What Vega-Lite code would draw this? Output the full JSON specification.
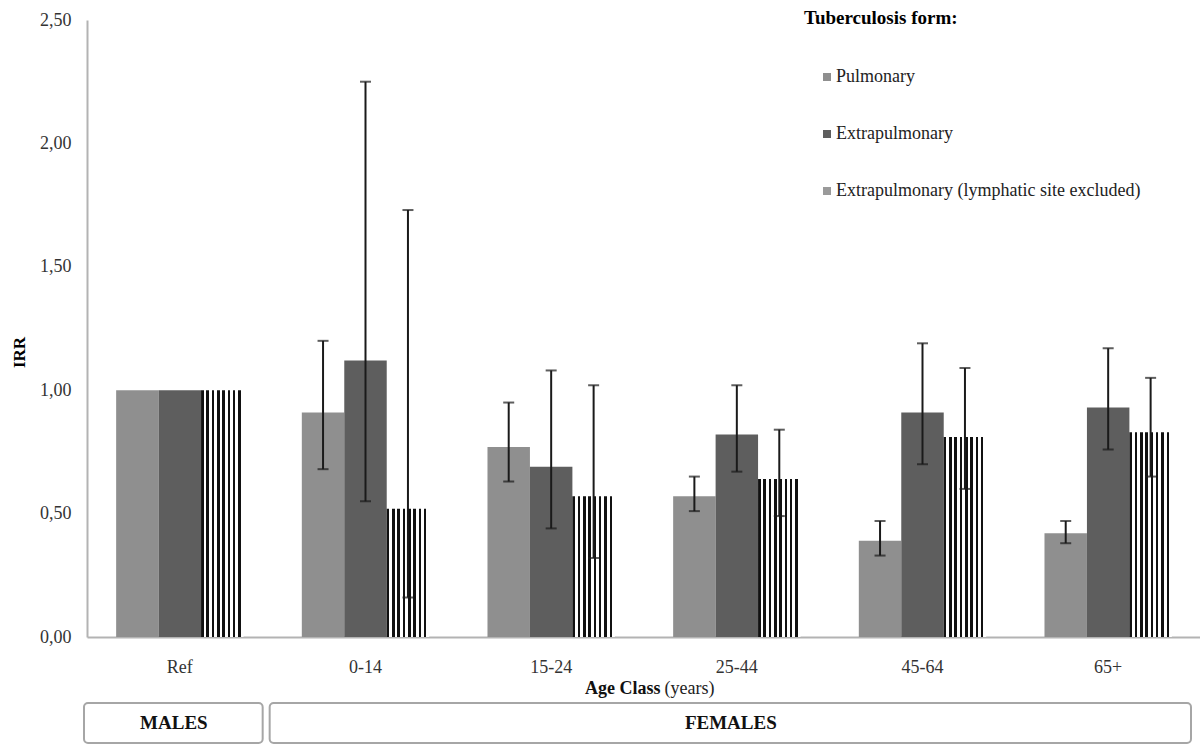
{
  "$schema": "https://vega.github.io/schema/vega-lite/v6.json",
  "autosize": {"type": "pad"},
  "padding": {"left": 10, "top": 9, "right": 0, "bottom": 0},
  "background": "white",
  "spacing": 2,
  "config": {
    "view": {"stroke": null},
    "font": "Liberation Serif",
    "text": {"font": "Liberation Serif"}
  },
  "resolve": {"scale": {"x": "independent", "y": "independent"}},
  "vconcat": [
    {
      "width": 1114,
      "height": 617,
      "data": {
        "values": [
          {"age": "Ref", "form": "Pulmonary", "irr": 1.0, "lo": null, "hi": null},
          {"age": "Ref", "form": "Extrapulmonary", "irr": 1.0, "lo": null, "hi": null},
          {"age": "Ref", "form": "Extrapulmonary (lymphatic site excluded)", "irr": 1.0, "lo": null, "hi": null},
          {"age": "0-14", "form": "Pulmonary", "irr": 0.91, "lo": 0.68, "hi": 1.2},
          {"age": "0-14", "form": "Extrapulmonary", "irr": 1.12, "lo": 0.55, "hi": 2.25},
          {"age": "0-14", "form": "Extrapulmonary (lymphatic site excluded)", "irr": 0.52, "lo": 0.16, "hi": 1.73},
          {"age": "15-24", "form": "Pulmonary", "irr": 0.77, "lo": 0.63, "hi": 0.95},
          {"age": "15-24", "form": "Extrapulmonary", "irr": 0.69, "lo": 0.44, "hi": 1.08},
          {"age": "15-24", "form": "Extrapulmonary (lymphatic site excluded)", "irr": 0.57, "lo": 0.32, "hi": 1.02},
          {"age": "25-44", "form": "Pulmonary", "irr": 0.57, "lo": 0.51, "hi": 0.65},
          {"age": "25-44", "form": "Extrapulmonary", "irr": 0.82, "lo": 0.67, "hi": 1.02},
          {"age": "25-44", "form": "Extrapulmonary (lymphatic site excluded)", "irr": 0.64, "lo": 0.49, "hi": 0.84},
          {"age": "45-64", "form": "Pulmonary", "irr": 0.39, "lo": 0.33, "hi": 0.47},
          {"age": "45-64", "form": "Extrapulmonary", "irr": 0.91, "lo": 0.7, "hi": 1.19},
          {"age": "45-64", "form": "Extrapulmonary (lymphatic site excluded)", "irr": 0.81, "lo": 0.6, "hi": 1.09},
          {"age": "65+", "form": "Pulmonary", "irr": 0.42, "lo": 0.38, "hi": 0.47},
          {"age": "65+", "form": "Extrapulmonary", "irr": 0.93, "lo": 0.76, "hi": 1.17},
          {"age": "65+", "form": "Extrapulmonary (lymphatic site excluded)", "irr": 0.83, "lo": 0.65, "hi": 1.05}
        ]
      },
      "encoding": {
        "x": {
          "field": "age", "type": "nominal",
          "sort": ["Ref", "0-14", "15-24", "25-44", "45-64", "65+"],
          "scale": {"paddingInner": 0.314, "paddingOuter": 0.157},
          "axis": {
            "title": null, "labelAngle": 0, "labelFontSize": 18, "labelFont": "Liberation Serif",
            "labelColor": "#333", "labelPadding": 21, "ticks": false, "tickSize": 0,
            "domainColor": "#b3b3b3", "domainWidth": 2, "grid": false
          }
        },
        "xOffset": {
          "field": "form", "type": "nominal",
          "sort": ["Pulmonary", "Extrapulmonary", "Extrapulmonary (lymphatic site excluded)"],
          "scale": {"domain": ["Pulmonary", "Extrapulmonary", "Extrapulmonary (lymphatic site excluded)"], "paddingInner": 0, "paddingOuter": 0}
        }
      },
      "layer": [
        {
          "mark": {"type": "bar"},
          "encoding": {
            "y": {
              "field": "irr", "type": "quantitative", "title": "IRR",
              "scale": {"domain": [0, 2.5], "nice": false, "zero": true},
              "axis": {
                "title": "IRR", "titleFont": "Liberation Serif", "titleFontSize": 17, "titleFontWeight": "bold",
                "titleColor": "#000", "titlePadding": 11, "titleY": 332,
                "labelFont": "Liberation Serif", "labelFontSize": 18, "labelPadding": 16, "labelColor": "#333",
                "ticks": false, "tickSize": 0, "grid": false,
                "domainColor": "#b3b3b3", "domainWidth": 2,
                "values": [0, 0.5, 1, 1.5, 2, 2.5],
                "labelExpr": "replace(format(datum.value, '.2f'), '.', ',')"
              }
            },
            "fill": {
              "condition": {
                "test": "datum.form === 'Extrapulmonary (lymphatic site excluded)'",
                "value": {"gradient": "linear", "x1": 0, "y1": 0, "x2": 1, "y2": 0,
                   "stops": [
                     {"offset": 0, "color": "#111"}, {"offset": 0.06, "color": "#111"}, {"offset": 0.06, "color": "#fff"}, {"offset": 0.125, "color": "#fff"},
                     {"offset": 0.125, "color": "#111"}, {"offset": 0.185, "color": "#111"}, {"offset": 0.185, "color": "#fff"}, {"offset": 0.25, "color": "#fff"},
                     {"offset": 0.25, "color": "#111"}, {"offset": 0.31, "color": "#111"}, {"offset": 0.31, "color": "#fff"}, {"offset": 0.375, "color": "#fff"},
                     {"offset": 0.375, "color": "#111"}, {"offset": 0.435, "color": "#111"}, {"offset": 0.435, "color": "#fff"}, {"offset": 0.5, "color": "#fff"},
                     {"offset": 0.5, "color": "#111"}, {"offset": 0.56, "color": "#111"}, {"offset": 0.56, "color": "#fff"}, {"offset": 0.625, "color": "#fff"},
                     {"offset": 0.625, "color": "#111"}, {"offset": 0.685, "color": "#111"}, {"offset": 0.685, "color": "#fff"}, {"offset": 0.75, "color": "#fff"},
                     {"offset": 0.75, "color": "#111"}, {"offset": 0.81, "color": "#111"}, {"offset": 0.81, "color": "#fff"}, {"offset": 0.875, "color": "#fff"},
                     {"offset": 0.875, "color": "#111"}, {"offset": 0.935, "color": "#111"}, {"offset": 0.935, "color": "#fff"}, {"offset": 1, "color": "#fff"}
                   ]}
              },
              "field": "form", "type": "nominal",
              "sort": ["Pulmonary", "Extrapulmonary", "Extrapulmonary (lymphatic site excluded)"],
              "scale": {
                "domain": ["Pulmonary", "Extrapulmonary", "Extrapulmonary (lymphatic site excluded)"],
                "range": ["#8f8f8f", "#5e5e5e", "#9a9a9a"]
              },
              "legend": {
                "title": "Tuberculosis form:", "orient": "none", "legendX": 717, "legendY": -11,
                "titleFont": "Liberation Serif", "titleFontSize": 19, "titleFontWeight": "bold", "titleColor": "#000",
                "titlePadding": 40, "labelFont": "Liberation Serif", "labelFontSize": 18, "labelColor": "#222",
                "labelLimit": 600, "symbolType": "square", "symbolSize": 64, "symbolOffset": 14,
                "labelOffset": 0, "rowPadding": 39, "symbolStrokeWidth": 0, "padding": 0
              }
            }
          }
        },
        {
          "mark": {"type": "rule", "strokeWidth": 2, "color": "#1a1a1a"},
          "encoding": {
            "y": {"field": "lo", "type": "quantitative", "title": "IRR", "scale": {"domain": [0, 2.5], "nice": false}},
            "y2": {"field": "hi"}
          }
        },
        {
          "mark": {"type": "tick", "orient": "horizontal", "size": 11, "thickness": 2, "color": "#1a1a1a"},
          "encoding": {"y": {"field": "lo", "type": "quantitative", "title": "IRR", "scale": {"domain": [0, 2.5], "nice": false}}}
        },
        {
          "mark": {"type": "tick", "orient": "horizontal", "size": 11, "thickness": 2, "color": "#1a1a1a"},
          "encoding": {"y": {"field": "hi", "type": "quantitative", "title": "IRR", "scale": {"domain": [0, 2.5], "nice": false}}}
        }
      ]
    },
    {
      "width": 1114,
      "height": 22,
      "data": {"values": [{"title": "Age Class (years)"}]},
      "layer": [
        {
          "mark": {"type": "text", "text": "Age Class", "align": "right", "dx": -2, "fontSize": 18, "fontWeight": "bold", "font": "Liberation Serif", "color": "#111"},
          "encoding": {"x": {"datum": 3.1, "type": "quantitative", "scale": {"domain": [0, 6]}, "axis": null}}
        },
        {
          "mark": {"type": "text", "text": "(years)", "align": "left", "dx": 2, "fontSize": 18, "font": "Liberation Serif", "color": "#222"},
          "encoding": {"x": {"datum": 3.1, "type": "quantitative", "scale": {"domain": [0, 6]}, "axis": null}}
        }
      ]
    },
    {
      "width": 1114,
      "height": 40,
      "data": {"values": [
        {"group": "MALES", "start": 0, "end": 1},
        {"group": "FEMALES", "start": 1, "end": 6}
      ]},
      "layer": [
        {
          "mark": {"type": "rect", "fill": "white", "stroke": "#a6a6a6", "strokeWidth": 2, "cornerRadius": 4, "xOffset": -3, "x2Offset": -10},
          "encoding": {
            "x": {"field": "start", "type": "quantitative", "scale": {"domain": [0, 6]}, "axis": null},
            "x2": {"field": "end"}
          }
        },
        {
          "transform": [
            {"fold": ["start", "end"], "as": ["edge", "pos"]},
            {"aggregate": [{"op": "mean", "field": "pos", "as": "mid"}], "groupby": ["group"]}
          ],
          "mark": {"type": "text", "fontSize": 19, "fontWeight": "bold", "font": "Liberation Serif", "dx": -6, "color": "#111"},
          "encoding": {
            "x": {"field": "mid", "type": "quantitative"},
            "text": {"field": "group"}
          }
        }
      ]
    }
  ]
}
